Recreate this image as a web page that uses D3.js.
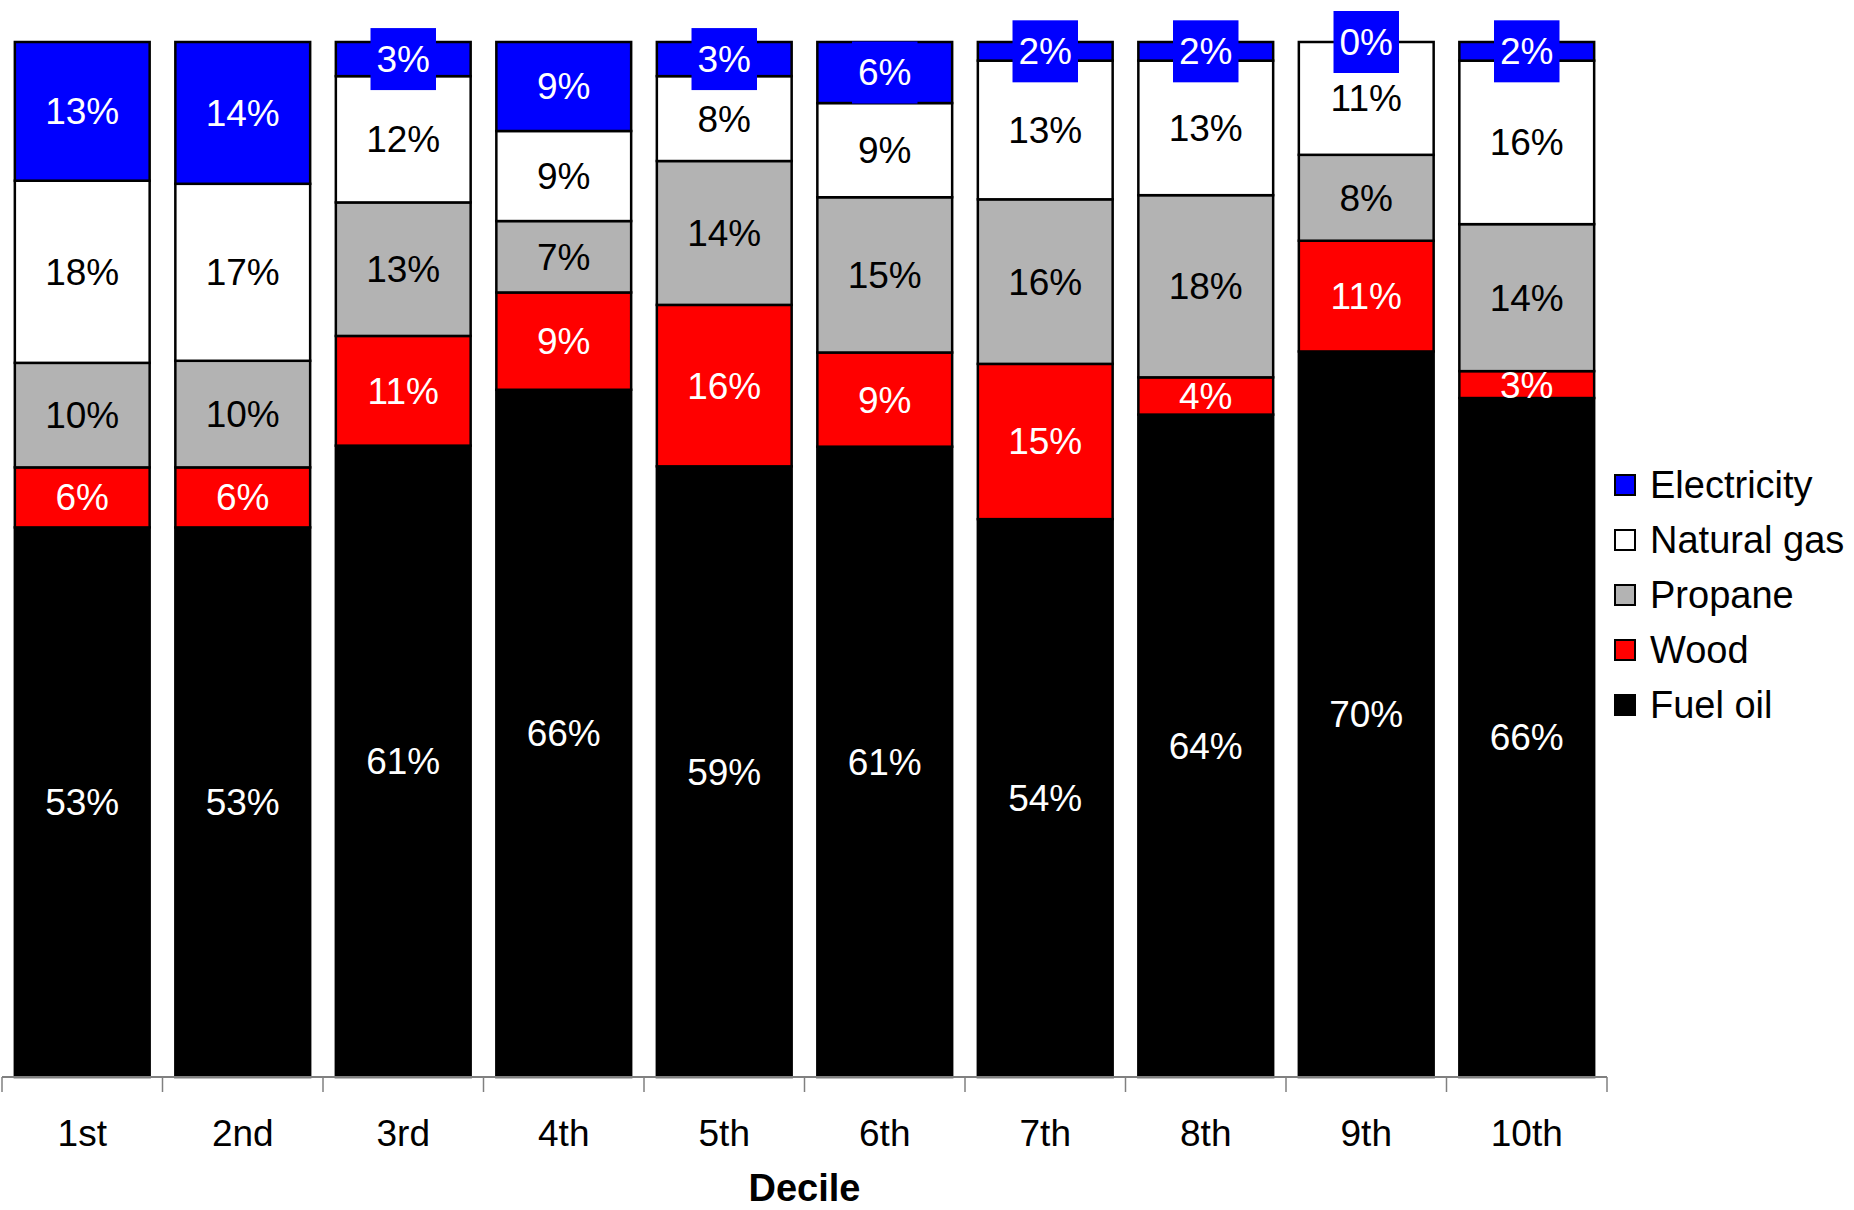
<!DOCTYPE html>
<html>
<head>
<meta charset="utf-8">
<script src="https://cdn.jsdelivr.net/npm/d3@7"></script>
<style>
  body { margin: 0; background: #fff; }
  text { font-family: "Liberation Sans", Arial, sans-serif; }
</style>
</head>
<body>
<div id="chart"></div>
<script>
// Chart data (share of heating fuel, %)
var deciles = ["1st", "2nd", "3rd", "4th", "5th", "6th", "7th", "8th", "9th", "10th"];
var seriesNames = ["Fuel oil", "Wood", "Propane", "Natural gas", "Electricity"];
var fuelOil = [53.1, 53.1, 61.0, 66.4, 59.0, 60.9, 53.9, 64.0, 70.1, 65.6];
var wood = [5.8, 5.8, 10.6, 9.4, 15.6, 9.1, 15.0, 3.6, 10.7, 2.6];
var propane = [10.1, 10.3, 12.9, 6.9, 13.9, 15.0, 15.9, 17.6, 8.3, 14.2];
var naturalGas = [17.6, 17.1, 12.2, 8.7, 8.2, 9.1, 13.4, 13.0, 10.9, 15.8];
var electricity = [13.4, 13.7, 3.3, 8.6, 3.3, 5.9, 1.8, 1.8, 0, 1.8];

var totWidth = 1854,
    totHeight = 1210;

// build rows for d3.stack
var rows = deciles.map(function(d, i) {
  return {
    decile: d,
    "Fuel oil": fuelOil[i],
    "Wood": wood[i],
    "Propane": propane[i],
    "Natural gas": naturalGas[i],
    "Electricity": electricity[i]
  };
});

var color = d3.scaleOrdinal()
  .domain(seriesNames)
  .range(["#000000", "#ff0000", "#b3b3b3", "#ffffff", "#0000ff"]);
var labelColor = d3.scaleOrdinal()
  .domain(seriesNames)
  .range(["#ffffff", "#ffffff", "#000000", "#000000", "#ffffff"]);

var svg = d3.select("#chart")
  .append("svg")
    .attr("width", totWidth)
    .attr("height", totHeight);

var x = d3.scaleBand()
  .domain(deciles)
  .range([2, 1607])
  .paddingInner(0.16)
  .paddingOuter(0.08);

var y = d3.scaleLinear()
  .domain([0, 100])
  .range([1077, 42]);

var stackedData = d3.stack().keys(seriesNames)(rows);

// bars
var layers = svg.selectAll(".layer")
  .data(stackedData)
  .enter()
  .append("g")
    .attr("class", "layer")
    .attr("fill", function(d) { return color(d.key); });

layers.selectAll("rect")
  .data(function(d) { return d; })
  .enter()
  .append("rect")
    .attr("x", function(d) { return x(d.data.decile); })
    .attr("y", function(d) { return y(d[1]); })
    .attr("width", x.bandwidth())
    .attr("height", function(d) { return y(d[0]) - y(d[1]); })
    .attr("stroke", "#000")
    .attr("stroke-width", 2.5);

// x axis
var axis = svg.append("g")
  .attr("transform", "translate(0,1077)");
axis.append("line")
  .attr("x1", x.range()[0])
  .attr("x2", x.range()[1])
  .attr("stroke", "#808080")
  .attr("stroke-width", 2);
axis.selectAll(".tick-mark")
  .data(d3.range(deciles.length + 1))
  .enter()
  .append("line")
    .attr("x1", function(i) { return x.range()[0] + i * x.step(); })
    .attr("x2", function(i) { return x.range()[0] + i * x.step(); })
    .attr("y1", 0)
    .attr("y2", 15)
    .attr("stroke", "#808080")
    .attr("stroke-width", 1.5);
axis.selectAll(".tick-label")
  .data(deciles)
  .enter()
  .append("text")
    .attr("x", function(d) { return x(d) + x.bandwidth() / 2; })
    .attr("y", 69)
    .attr("text-anchor", "middle")
    .attr("font-size", "37px")
    .text(function(d) { return d; });

svg.append("text")
  .attr("x", (x.range()[0] + x.range()[1]) / 2)
  .attr("y", 1201)
  .attr("text-anchor", "middle")
  .attr("font-size", "38px")
  .attr("font-weight", "bold")
  .text("Decile");

// data labels
var fmt = function(v) { return Math.round(v) + "%"; };
var labelFont = 37;
stackedData.forEach(function(layer) {
  var g = svg.append("g");
  layer.forEach(function(d) {
    var cx = x(d.data.decile) + x.bandwidth() / 2,
        cy = (y(d[0]) + y(d[1])) / 2;
    var t = g.append("text")
      .attr("x", cx)
      .attr("y", cy)
      .attr("dy", "0.35em")
      .attr("text-anchor", "middle")
      .attr("font-size", labelFont + "px")
      .attr("fill", labelColor(layer.key))
      .text(fmt(d[1] - d[0]));
    if (layer.key === "Electricity") {
      var w = t.node().getComputedTextLength() + 12;
      g.insert("rect", function() { return t.node(); })
        .attr("x", cx - w / 2)
        .attr("y", cy - 31)
        .attr("width", w)
        .attr("height", 62)
        .attr("fill", color(layer.key));
    }
  });
});

// legend
var legendKeys = seriesNames.slice().reverse();
var legend = svg.selectAll(".legend")
  .data(legendKeys)
  .enter()
  .append("g")
    .attr("class", "legend")
    .attr("transform", function(d, i) { return "translate(1615," + (485 + i * 55) + ")"; });
legend.append("rect")
  .attr("x", 0)
  .attr("y", -10)
  .attr("width", 20)
  .attr("height", 20)
  .attr("fill", function(d) { return color(d); })
  .attr("stroke", "#000")
  .attr("stroke-width", 2);
legend.append("text")
  .attr("x", 35)
  .attr("y", 0)
  .attr("dy", "0.35em")
  .attr("font-size", "38px")
  .text(function(d) { return d; });
</script>
</body>
</html>
